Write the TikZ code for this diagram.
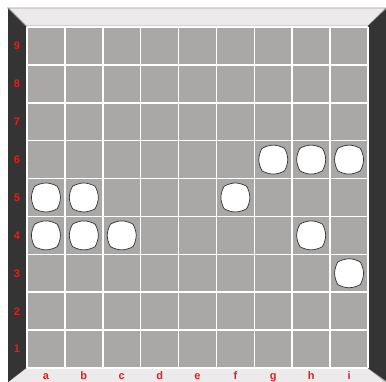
\documentclass[tikz,border=0pt]{standalone}
\usepackage{fontspec}
\setmainfont{Liberation Sans}
\usetikzlibrary{shapes.symbols}
\definecolor{cellgray}{RGB}{170, 167, 167}
\definecolor{framedark}{RGB}{52, 52, 52}
\definecolor{bevellight}{RGB}{236, 234, 235}
\definecolor{beveledge}{RGB}{160, 158, 158}
\definecolor{labelred}{RGB}{228, 30, 30}

\begin{document}
\begin{tikzpicture}[x=1pt, y=-1pt,
    bevel/.style={fill=bevellight, draw=beveledge, line width=0.8pt, line join=miter},
    sideframe/.style={fill=framedark},
    gridline/.style={draw=white, line width=1.6pt},
    rowlabel/.style={text=labelred, font=\bfseries\fontsize{11}{11}\selectfont, inner sep=0pt},
    collabel/.style={rowlabel, anchor=base},
    stone/.style={cloud, cloud puffs=4, cloud puff arc=65, aspect=1, shape border rotate=45,
                  fill=white, draw=black!80, line width=0.7pt, minimum width=29pt, minimum height=29pt,
                  inner sep=0pt, preaction={draw=black!35, line width=2.4pt}}
]
    \useasboundingbox (0,0) rectangle (386,382);

    % Rahmen
    \path[bevel] (8,8) -- (386,8) -- (368,26) -- (26,26) -- cycle;
    \path[bevel] (8,382) -- (26,368) -- (368,368) -- (386,382);
    \fill[framedark] (8,8) -- (26,26) -- (26,368) -- (8,382) -- cycle;
    \fill[framedark] (386,9) -- (368,26) -- (368,368) -- (386,381) -- cycle;
    \draw[black!45, line width=0.8pt] (8,8) -- (26,26);

    % Brett
    \fill[cellgray] (27,27) rectangle (368,368);
    \foreach \k in {0,...,9} {
        \draw[gridline] ({27+\k*37.89},27) -- ({27+\k*37.89},368);
        \draw[gridline] (27,{27+\k*37.89}) -- (368,{27+\k*37.89});
    }

    % Koordinaten
    \foreach \n in {1,...,9}
        \node[rowlabel] (row\n) at (17,{368-(\n-0.5)*37.89}) {\n};
    \foreach \l [count=\i] in {a,b,c,d,e,f,g,h,i}
        \node[collabel] (col\l) at ({27+(\i-0.5)*37.89},380) {\l};

    % Steine
    \foreach \c/\r in {1/5,2/5,1/4,2/4,3/4,6/5,7/6,8/6,9/6,8/4,9/3}
        \node[stone] (stone\c\r) at ({27+(\c-0.5)*37.89},{368-(\r-0.5)*37.89}) {};
\end{tikzpicture}
\end{document}
